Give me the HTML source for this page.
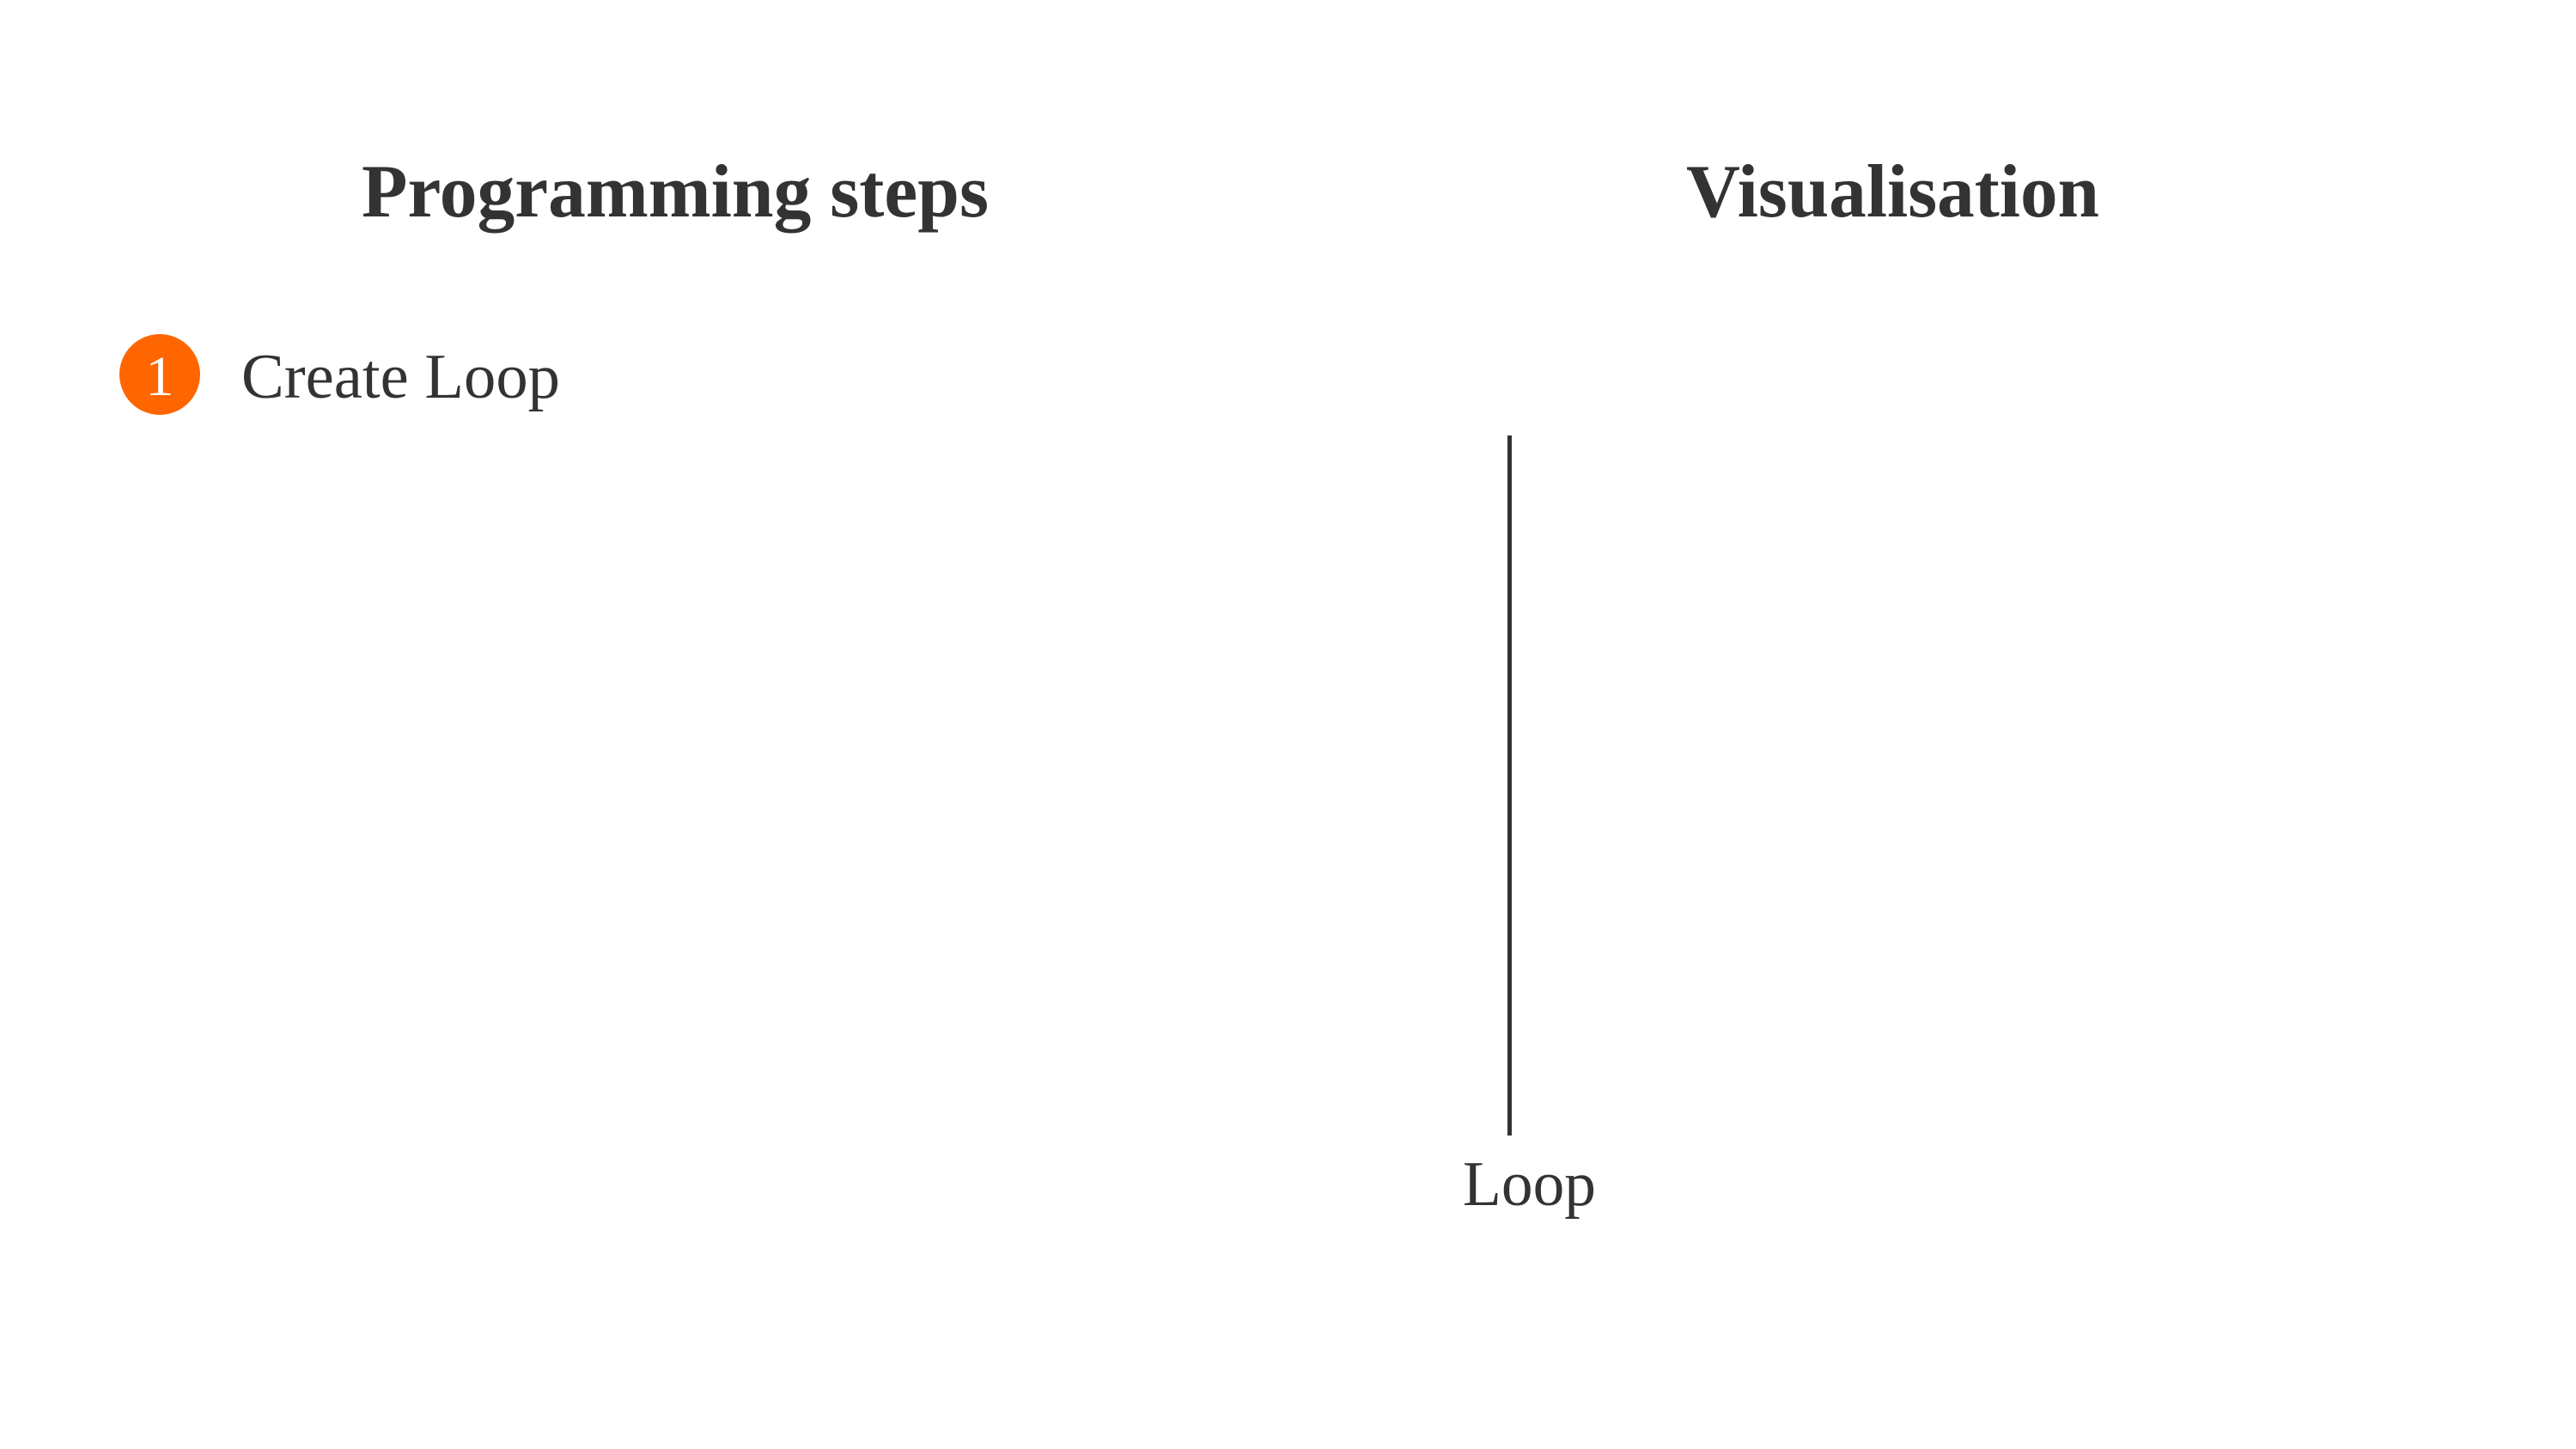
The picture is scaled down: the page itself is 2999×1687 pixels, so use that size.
<!DOCTYPE html>
<html><head><meta charset="utf-8"><style>
html,body{margin:0;padding:0;background:#fff;width:2999px;height:1687px;overflow:hidden}
</style></head><body>
<svg width="2999" height="1687" xmlns="http://www.w3.org/2000/svg">
<rect width="2999" height="1687" fill="#fff"/>
<g font-family="Liberation Serif, serif" fill="#333">
<text x="421" y="252" font-size="88" font-weight="bold" textLength="730" lengthAdjust="spacingAndGlyphs">Programming steps</text>
<text x="1963" y="252" font-size="88" font-weight="bold" textLength="481" lengthAdjust="spacingAndGlyphs">Visualisation</text>
<text x="281" y="463" font-size="74" textLength="371" lengthAdjust="spacingAndGlyphs">Create Loop</text>
<text x="1703" y="1403" font-size="74" textLength="155" lengthAdjust="spacingAndGlyphs">Loop</text>
</g>
<circle cx="186" cy="436" r="47" fill="#ff6600"/>
<text x="186" y="460" font-family="Liberation Serif, serif" font-size="66" fill="#fff" text-anchor="middle">1</text>
<line x1="1757.5" y1="507" x2="1757.5" y2="1322" stroke="#333" stroke-width="5"/>
</svg>
</body></html>
